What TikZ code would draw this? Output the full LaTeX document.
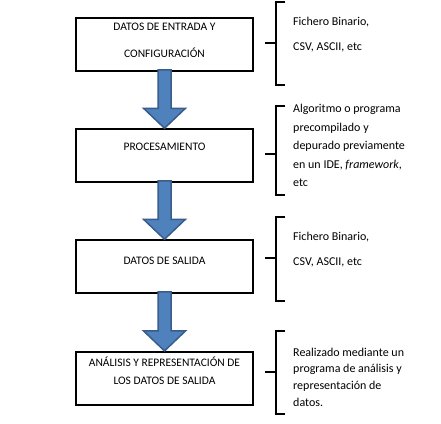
\documentclass[tikz,border=0pt]{standalone}
\usepackage{fontspec}
\setmainfont{Carlito}
\usetikzlibrary{calc}
\definecolor{flechaazul}{RGB}{79,129,189}
\definecolor{flechaborde}{RGB}{56,93,138}

\begin{document}
\begin{tikzpicture}[x=1pt,y=-1pt,
  caja/.style={draw,line width=1.5pt,minimum width=177pt,minimum height=53pt,inner sep=0pt},
  txtcaja/.style={font=\fontsize{11.5}{18}\selectfont,align=center,inner sep=0pt},
  nota/.style={font=\fontsize{12}{17.5}\selectfont,align=left,anchor=west,inner sep=0pt},
  llave/.style={line width=1.5pt},
  flecha/.style={fill=flechaazul,draw=flechaborde,line width=1.5pt,line join=miter}]
  \useasboundingbox (0,0) rectangle (441,423);
  % columna de cajas
  \node[caja] (b1) at (164.5,44.5) {};
  \node[caja] (b2) at (164.5,155.5) {};
  \node[caja] (b3) at (164.5,266.5) {};
  \node[caja,line width=2.2pt] (b4) at (164.5,378.5) {};
  \node[txtcaja,font=\fontsize{11.5}{27}\selectfont] (t1) at ($(b1.north)+(0,23.5)$) {DATOS DE ENTRADA Y\\CONFIGURACIÓN};
  \node[txtcaja] (t2) at ($(b2.north)+(0,19)$) {PROCESAMIENTO};
  \node[txtcaja] (t3) at ($(b3.north)+(0,22)$) {DATOS DE SALIDA};
  \node[txtcaja] (t4) at ($(b4.north)+(0,20)$) {ANÁLISIS Y REPRESENTACIÓN DE\\LOS DATOS DE SALIDA};
  \foreach \a/\b in {b1/b2,b2/b3,b3/b4}
    \draw[flecha] ($(\a.south)+(-6.5,-2)$) -- ($(\b.north)+(-6.5,-20)$) -- ($(\b.north)+(-21,-20)$)
      -- (\b.north) -- ($(\b.north)+(21,-20)$) -- ($(\b.north)+(6.5,-20)$) -- ($(\a.south)+(6.5,-2)$) -- cycle;
  % llaves y notas
  \foreach \ya/\yt/\yb in {2/43/85,106/154/195,217/258/301,331/372/414}
    \draw[llave] (285,\ya) -- (276,\ya) -- (276,\yb) -- (285,\yb) (276,\yt) -- (265,\yt);
  \node[nota,font=\fontsize{12}{25}\selectfont] (d1) at (293,34.5) {Fichero Binario,\\CSV, ASCII, etc};
  \node[nota,font=\fontsize{12}{18.5}\selectfont] (d2) at (293,145.5) {Algoritmo o programa\\precompilado y\\depurado previamente\\en un IDE, \textit{framework},\\etc};
  \node[nota,font=\fontsize{12}{25}\selectfont] (d3) at (293,249.5) {Fichero Binario,\\CSV, ASCII, etc};
  \node[nota,font=\fontsize{12}{16.7}\selectfont] (d4) at (293,377) {Realizado mediante un\\programa de análisis y\\representación de\\datos.};
\end{tikzpicture}
\end{document}
